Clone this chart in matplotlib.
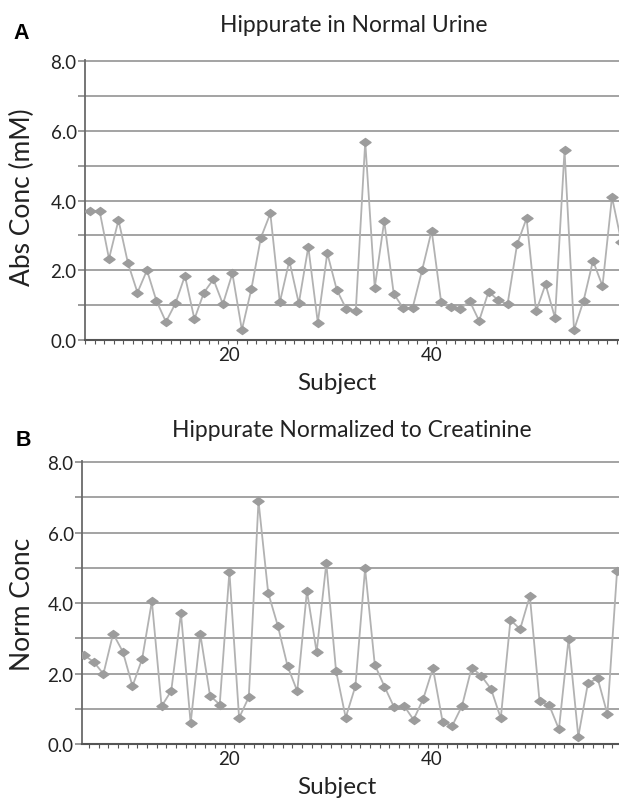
import matplotlib
matplotlib.use('Agg')
import matplotlib.pyplot as plt
import numpy as np
from matplotlib.path import Path
from matplotlib.ticker import MultipleLocator, FixedLocator, FuncFormatter

plt.rcParams['font.family'] = ['Lato', 'DejaVu Sans']

# Panel A: absolute concentration (mM), one value per subject
abs_conc = [3.69, 3.71, 2.33, 3.44, 2.20, 1.36, 2.00, 1.12, 0.52, 1.05,
            1.84, 0.60, 1.36, 1.74, 1.03, 1.91, 0.29, 1.46, 2.93, 3.63,
            1.08, 2.27, 1.05, 2.67, 0.50, 2.49, 1.44, 0.89, 0.82, 5.69,
            1.50, 3.41, 1.33, 0.91, 0.93, 2.01, 3.14, 1.08, 0.95, 0.89,
            1.12, 0.55, 1.39, 1.14, 1.03, 2.74, 3.49, 0.82, 1.60, 0.63,
            5.44, 0.29, 1.12, 2.27, 1.55, 4.10, 2.80]

# Panel B: normalized to creatinine
norm_conc = [2.52, 2.33, 1.99, 3.13, 2.62, 1.64, 2.42, 4.05, 1.07, 1.51,
             3.71, 0.59, 3.11, 1.37, 1.12, 4.89, 0.74, 1.33, 6.90, 4.29,
             3.35, 2.21, 1.50, 4.34, 2.61, 5.13, 2.08, 0.75, 1.64, 4.98,
             2.25, 1.63, 1.04, 1.09, 0.69, 1.28, 2.15, 0.63, 0.52, 1.08,
             2.17, 1.93, 1.56, 0.73, 3.52, 3.26, 4.20, 1.21, 1.10, 0.42,
             2.99, 0.21, 1.73, 1.86, 0.85, 4.91]

tick_labels = ['20', '40']

W, H = 619, 804
fig = plt.figure(figsize=(W / 100, H / 100), dpi=100)

# flattened diamond marker
diamond = Path([(-1, 0), (0, 0.72), (1, 0), (0, -0.72), (-1, 0)],
               [Path.MOVETO, Path.LINETO, Path.LINETO, Path.LINETO, Path.CLOSEPOLY])


def style_axes(ax, values, xlim, label_pos):
    x = np.arange(len(values))
    ax.plot(x, values, color='#b2b2b2', lw=1.3, marker=diamond, ms=8,
            mfc='#9c9c9c', mec='#9c9c9c', zorder=3)
    ax.set_xlim(*xlim)
    ax.set_ylim(0, 8.03)
    for s in ['top', 'right']:
        ax.spines[s].set_visible(False)
    ax.spines['left'].set_color('#6a6a6a')
    ax.spines['left'].set_linewidth(1.3)
    ax.spines['bottom'].set_color('#555555')
    ax.spines['bottom'].set_linewidth(1.5)
    ax.yaxis.set_major_locator(MultipleLocator(1.0))
    ax.yaxis.set_major_formatter(FuncFormatter(
        lambda v, p: '%.1f' % v if round(v) % 2 == 0 else ''))
    ax.yaxis.grid(True, color='#9c9c9c', lw=1.3)
    ax.set_axisbelow(True)
    ax.tick_params(axis='y', length=5, width=1.2, color='#8a8a8a', pad=1,
                   labelsize=13.5, labelcolor='#222222')
    ax.xaxis.set_major_locator(FixedLocator(label_pos))
    ax.set_xticklabels(tick_labels)
    ax.xaxis.set_minor_locator(FixedLocator(np.arange(-0.5, len(values) + 1, 1.0)))
    ax.tick_params(axis='x', which='major', length=0, pad=4, labelsize=13.5,
                   labelcolor='#222222')
    ax.tick_params(axis='x', which='minor', length=3, width=0.8, color='#555555')


axA = fig.add_axes([85 / W, 1 - 341 / H, (W - 85) / W, 280 / H])
style_axes(axA, abs_conc, (-0.53, 55.74), [14.65, 36.04])

axB = fig.add_axes([82 / W, 1 - 745 / H, (W - 82) / W, 283 / H])
style_axes(axB, norm_conc, (-0.21, 55.2), [14.96, 35.9])

# titles, panel letters and axis labels
fig.text(354 / W, 1 - 32 / H, 'Hippurate in Normal Urine', ha='center',
         va='baseline', fontsize=16.5, color='#222222')
fig.text(352 / W, 1 - 437 / H, 'Hippurate Normalized to Creatinine', ha='center',
         va='baseline', fontsize=16.5, color='#222222')
fig.text(13 / W, 1 - 39 / H, 'A', ha='left', va='baseline', fontsize=15.5,
         fontweight='bold', family=['Liberation Sans', 'DejaVu Sans'])
fig.text(16 / W, 1 - 446 / H, 'B', ha='left', va='baseline', fontsize=15.5,
         fontweight='bold', family=['Liberation Sans', 'DejaVu Sans'])
fig.text(337 / W, 1 - 390 / H, 'Subject', ha='center', va='baseline',
         fontsize=17.5, color='#222222')
fig.text(337 / W, 1 - 794 / H, 'Subject', ha='center', va='baseline',
         fontsize=17.5, color='#222222')
fig.text(22 / W, 1 - 197 / H, 'Abs Conc (mM)', ha='center', va='center',
         rotation=90, fontsize=19, color='#222222')
fig.text(22 / W, 1 - 604 / H, 'Norm Conc', ha='center', va='center',
         rotation=90, fontsize=19, color='#222222')

fig.savefig('out.png', dpi=100)
